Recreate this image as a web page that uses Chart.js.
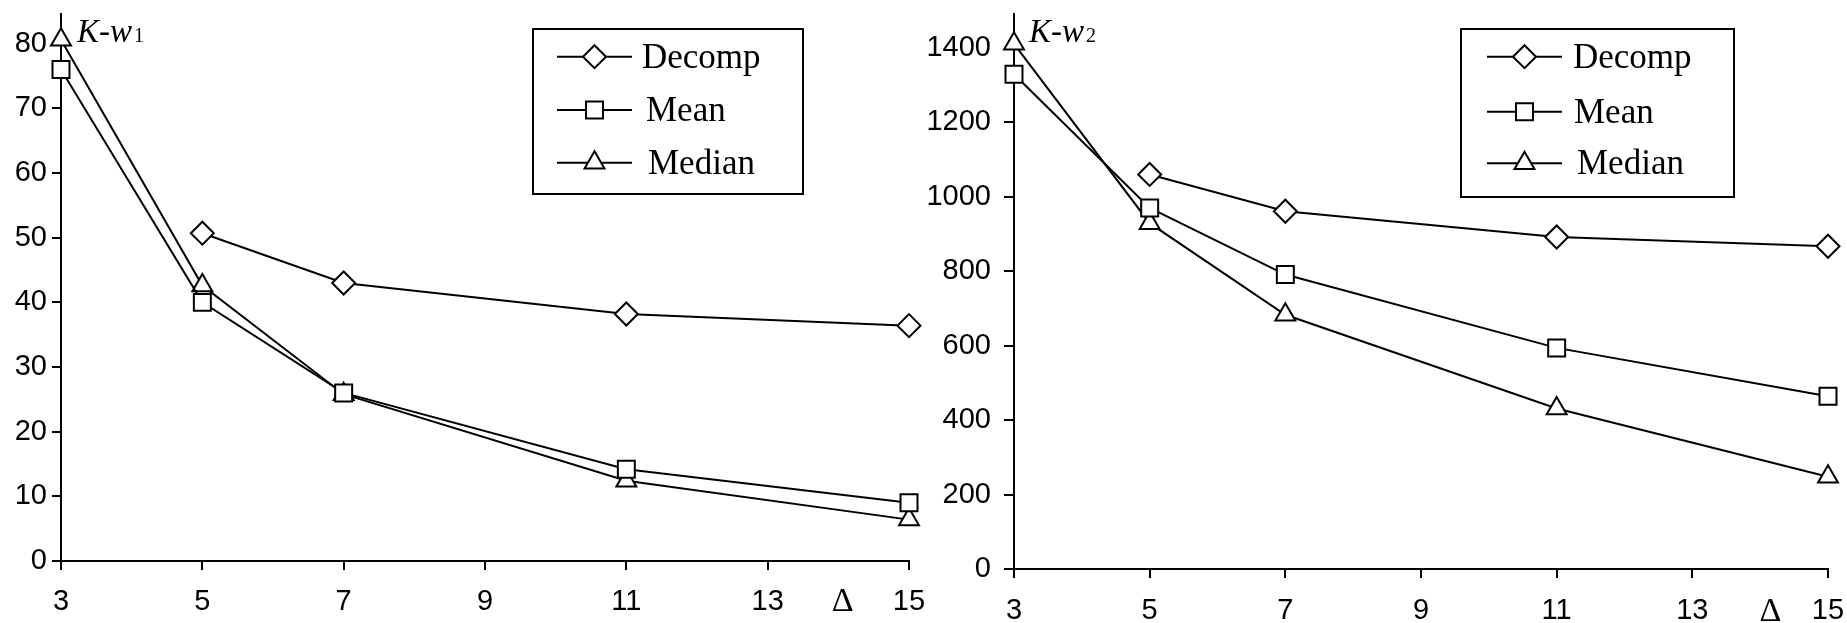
<!DOCTYPE html>
<html><head><meta charset="utf-8">
<script src="https://cdn.jsdelivr.net/npm/chart.js@4.4.1/dist/chart.umd.min.js"></script>
<style>
html,body{margin:0;padding:0;background:#fff;}
body{width:1847px;height:623px;position:relative;overflow:hidden;}
#c1{position:absolute;left:0;top:0;}
#c2{position:absolute;left:924px;top:0;}
</style></head><body>
<canvas id="c1" width="934" height="623" style="width:934px;height:623px"></canvas>
<canvas id="c2" width="923" height="623" style="width:923px;height:623px"></canvas>
<script>
// ---- data ----
const deltaValues = [3, 5, 7, 11, 15];
const decompDelta = [5, 7, 11, 15];
const xTickValues = [3, 5, 7, 9, 11, 13, 15];
const seriesNames = ['Decomp', 'Mean', 'Median'];

// K-w1 (left)
const decompW1 = [50.7, 43.0, 38.2, 36.4];
const meanW1   = [76.0, 40.0, 26.0, 14.2, 9.0];
const medianW1 = [80.6, 42.6, 25.8, 12.4, 6.4];
const yTicksW1 = [0, 10, 20, 30, 40, 50, 60, 70, 80];

// K-w2 (right)
const decompW2 = [1060, 961, 892, 867];
const meanW2   = [1329, 970, 791, 594, 464];
const medianW2 = [1411, 929, 683, 431, 248];
const yTicksW2 = [0, 200, 400, 600, 800, 1000, 1200, 1400];

// ---- helpers ----
const zip = (xs, ys) => xs.map((x, i) => ({x: x, y: ys[i]}));
const TICK_FONT = {family: '"Liberation Sans", Arial, sans-serif', size: 29};
const SERIF = '"Liberation Serif", "Times New Roman", serif';

function dataset(label, xs, ys, style) {
  return {
    label: label, data: zip(xs, ys),
    borderColor: '#000', borderWidth: 2,
    pointStyle: style, pointRadius: style === 'rect' ? 12 : 11.5,
    pointBackgroundColor: '#fff', pointBorderColor: '#000', pointBorderWidth: 2,
    pointHoverRadius: 11, tension: 0, clip: false
  };
}

const decorPlugin = {
  id: 'decor',
  afterDraw(chart, args, o) {
    const ctx = chart.ctx;
    ctx.save();
    const L = o.legend;
    ctx.lineWidth = 2; ctx.strokeStyle = '#000';
    ctx.strokeRect(L.x, L.y, L.w, L.h);
    chart.data.datasets.forEach((ds, i) => {
      const y = L.rows[i];
      ctx.strokeStyle = '#000'; ctx.lineWidth = 2;
      ctx.beginPath(); ctx.moveTo(L.x1, y); ctx.lineTo(L.x2, y); ctx.stroke();
      ctx.fillStyle = '#fff';
      Chart.helpers.drawPoint(ctx, {pointStyle: ds.pointStyle, radius: ds.pointRadius, borderWidth: 2, rotation: 0}, (L.x1 + L.x2) / 2, y);
      ctx.fillStyle = '#000';
      ctx.font = '35px ' + SERIF;
      ctx.textAlign = 'left'; ctx.textBaseline = 'alphabetic';
      ctx.fillText(ds.label, L.textX[i], y + 11);
    });
    ctx.fillStyle = '#000';
    ctx.textAlign = 'left'; ctx.textBaseline = 'alphabetic';
    ctx.font = 'italic 33px ' + SERIF;
    ctx.fillText('K-w', o.title.x, o.title.y);
    const w = ctx.measureText('K-w').width;
    ctx.font = '20px ' + SERIF;
    ctx.fillText(o.title.sub, o.title.x + w + 2, o.title.y);
    const xs = chart.scales.x;
    ctx.font = '34px ' + SERIF;
    ctx.textAlign = 'center';
    ctx.fillText('\u0394', xs.getPixelForValue(o.delta.at), o.delta.y);
    ctx.restore();
  }
};

function makeChart(id, d, yMax, yTicks, cfg) {
  return new Chart(document.getElementById(id), {
    type: 'line',
    data: {datasets: [
      dataset(seriesNames[0], decompDelta, d[0], 'rectRot'),
      dataset(seriesNames[1], deltaValues, d[1], 'rect'),
      dataset(seriesNames[2], deltaValues, d[2], 'triangle')
    ]},
    options: {
      responsive: false, animation: false,
      layout: {padding: {top: 13, left: 0, right: cfg.padRight, bottom: 0}},
      plugins: {
        legend: {display: false}, tooltip: {enabled: false},
        decor: {legend: cfg.legend, title: cfg.title, delta: cfg.delta}
      },
      scales: {
        x: {
          type: 'linear', min: 3, max: 15,
          afterBuildTicks: a => { a.ticks = xTickValues.map(v => ({value: v})); },
          afterFit: a => { a.height = cfg.xHeight; a.paddingLeft = 0; a.paddingRight = 0; },
          grid: {display: true, drawOnChartArea: false, drawTicks: true, tickLength: 9, color: '#000', lineWidth: 2},
          border: {display: true, color: '#000', width: 2},
          ticks: {font: TICK_FONT, color: '#000', padding: cfg.xPad, maxRotation: 0, autoSkip: false,
                  callback: v => String(v)}
        },
        y: {
          type: 'linear', min: 0, max: yMax,
          afterBuildTicks: a => { a.ticks = yTicks.map(v => ({value: v})); },
          afterFit: a => { a.width = cfg.yWidth; a.paddingTop = 0; a.paddingBottom = 0; },
          grid: {display: true, drawOnChartArea: false, drawTicks: true, tickLength: cfg.yTickLen, color: '#000', lineWidth: 2},
          border: {display: true, color: '#000', width: 2},
          ticks: {font: TICK_FONT, color: '#000', padding: cfg.yPad, autoSkip: false,
                  callback: v => String(v)}
        }
      }
    },
    plugins: [decorPlugin]
  });
}

makeChart('c1', [decompW1, meanW1, medianW1], 84.6, yTicksW1, {
  padRight: 25, xHeight: 62, yWidth: 61, xPad: 15, yPad: 5, yTickLen: 9,
  legend: {x: 533, y: 29, w: 270, h: 165, x1: 557, x2: 632, rows: [56.7, 110, 162.7], textX: [642, 646, 648]},
  title: {x: 77, y: 42, sub: '1'},
  delta: {at: 14.06, y: 611}
});

makeChart('c2', [decompW2, meanW2, medianW2], 1491, yTicksW2, {
  padRight: 19, xHeight: 54, yWidth: 90, xPad: 16, yPad: 13, yTickLen: 10,
  legend: {x: 537, y: 29, w: 273, h: 168, x1: 563, x2: 638, rows: [56.7, 111.7, 163.3], textX: [649, 650, 653]},
  title: {x: 105, y: 42, sub: '2'},
  delta: {at: 14.15, y: 621}
});
</script>
</body></html>
